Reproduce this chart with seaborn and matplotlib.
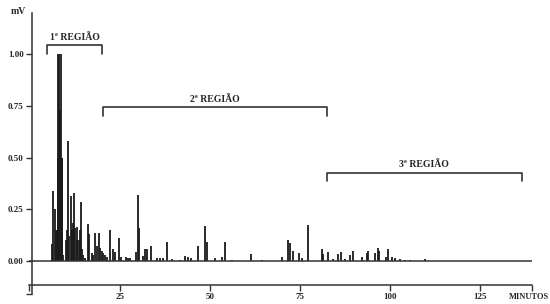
import matplotlib
matplotlib.use('Agg')
import matplotlib.pyplot as plt
import seaborn as sns

# retention time (min) and peak height (mV)
peak_time = [6.19, 6.47, 6.81, 7.22, 7.5, 7.69, 7.86, 8.11, 8.33, 8.53, 8.75, 8.97, 9.25,
             9.92, 10.19, 10.47, 10.83, 11.31, 11.58, 11.86, 12.22, 12.5, 12.92, 13.14,
             13.61, 13.89, 14.17, 14.36, 14.81, 15.28, 16.19, 16.47, 17.14, 17.5, 18.06,
             18.53, 19.08, 19.44, 19.86, 20.28, 20.83, 21.39, 22.22, 22.97, 23.61, 24.81,
             25.28, 26.67, 27.22, 27.78, 29.36, 29.92, 30.14, 31.47, 31.94, 32.42, 33.53,
             35.28, 36.11, 36.94, 38.14, 39.36, 41.67, 43.06, 43.89, 44.72, 46.58, 48.69,
             49.08, 51.39, 53.25, 54.17, 56.03, 61.31, 64.36, 69.92, 71.75, 72.22, 73.14,
             74.72, 75.47, 77.31, 81.03, 81.47, 82.86, 84.17, 85.64, 86.39, 87.5, 88.89,
             89.81, 92.14, 93.53, 93.97, 95.83, 96.58, 97.03, 98.81, 99.53, 100.64,
             101.39, 102.78, 104.17, 105.56, 109.72]
peak_height = [0.08, 0.34, 0.25, 0.15, 0.15, 0.5, 1.0, 1.0, 0.73, 1.0, 0.5, 0.5, 0.03,
               0.10, 0.15, 0.58, 0.12, 0.315, 0.15, 0.185, 0.33, 0.16, 0.165, 0.10,
               0.10, 0.15, 0.283, 0.06, 0.03, 0.015, 0.178, 0.13, 0.04, 0.03, 0.133,
               0.07, 0.133, 0.065, 0.05, 0.04, 0.03, 0.02, 0.15, 0.06, 0.045, 0.11,
               0.02, 0.02, 0.015, 0.015, 0.045, 0.32, 0.16, 0.025, 0.06, 0.06, 0.07,
               0.015, 0.015, 0.015, 0.09, 0.01, 0.005, 0.024, 0.02, 0.012, 0.07, 0.167,
               0.094, 0.016, 0.018, 0.094, 0.005, 0.032, 0.005, 0.018, 0.10, 0.086, 0.05,
               0.04, 0.013, 0.175, 0.06, 0.034, 0.042, 0.01, 0.034, 0.042, 0.01, 0.03,
               0.05, 0.02, 0.039, 0.047, 0.037, 0.063, 0.047, 0.02, 0.058, 0.02,
               0.013, 0.007, 0.005, 0.005, 0.011]

# regions: label, start, end, bracket height
region_labels = ['1ª REGIÃO', '2ª REGIÃO', '3ª REGIÃO']
region_start = [4.7, 20.3, 82.5]
region_end = [20.0, 82.5, 136.7]
region_level = [1.043, 0.743, 0.427]

y_ticks = [0.0, 0.25, 0.5, 0.75, 1.0]
x_ticks = [25, 50, 75, 100, 125]

sns.set_theme(style='white')
plt.rcParams['font.family'] = ['Liberation Serif', 'DejaVu Serif']
plt.rcParams['font.weight'] = 'bold'

fig = plt.figure(figsize=(5.5, 3.04), dpi=100)
ax = fig.add_axes([29 / 550, 10 / 304, 503 / 550, 281 / 304])

ax.vlines(peak_time, 0, peak_height, color='#1a1a1a', lw=1.3)
ax.axhline(0, color='#333333', lw=1.1)

# region brackets
for lab, x0, x1, yl in zip(region_labels, region_start, region_end, region_level):
    ax.plot([x0, x0, x1, x1], [yl - 0.04, yl, yl, yl - 0.04], color='#333333', lw=1.2)
    ax.text((x0 + x1) / 2, yl + 0.038, lab, ha='center', va='center',
            fontsize=7, fontweight='bold')

ax.set_xlim(-0.3, 139.5)
ax.set_ylim(-0.16, 1.2)

for s in ['top', 'right']:
    ax.spines[s].set_visible(False)
ax.spines['left'].set_position(('data', 0.55))
ax.spines['bottom'].set_position(('data', -0.115))
for s in ['left', 'bottom']:
    ax.spines[s].set_color('#333333')
    ax.spines[s].set_linewidth(1.1)

ax.set_yticks([-0.16] + y_ticks)
ax.set_yticklabels([''] + ['%.2f' % v for v in y_ticks])
ax.set_xticks([-0.3] + x_ticks + [139.5])
ax.set_xticklabels([''] + [str(v) for v in x_ticks] + [''])
ax.tick_params(axis='both', direction='out', length=4, width=1, color='#333333',
               labelsize=6.5, pad=2, left=True, bottom=True)
ax.grid(False)

fig.text(18 / 550, 1 - 12 / 304, 'mV', ha='center', va='center', fontsize=7,
         fontweight='bold')
fig.text(549 / 550, 1 - 297 / 304, 'MINUTOS', ha='right', va='center', fontsize=6,
         fontweight='bold')

fig.savefig('out.png', dpi=100)
